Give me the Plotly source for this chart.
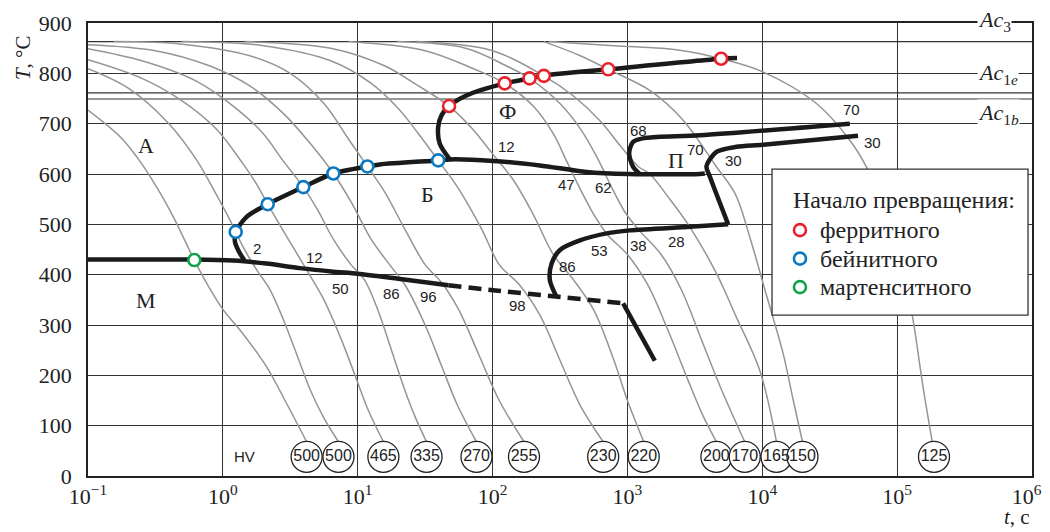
import math
import plotly.graph_objects as go

# ---------------- data ----------------
# cooling curves: time (s) and temperature (°C)
cool_t = [
    [0.1, 0.173, 0.230, 0.323, 0.429, 0.614, 0.759, 1.007, 1.34, 2.11, 2.97, 4.18],
    [0.1, 0.2, 0.398, 0.631, 0.891, 1.122, 1.245, 1.413, 1.778, 2.239, 2.818, 3.548, 4.467, 5.623, 7.2],
    [0.1, 0.251, 0.501, 0.891, 1.413, 1.778, 2.15, 2.63, 3.31, 4.17, 5.62, 7.59, 9.55, 12.0, 15.5],
    [0.1, 0.251, 0.631, 1.259, 1.995, 2.818, 3.95, 5.01, 6.61, 8.91, 11.2, 14.1, 17.8, 22.4, 26.9, 32.4],
    [0.1, 0.316, 0.794, 1.585, 2.818, 4.467, 6.6, 8.91, 12.6, 17.8, 22.4, 31.6, 41.7, 55.0, 76],
    [0.155, 0.501, 1.585, 3.162, 5.623, 8.51, 11.8, 15.8, 22.4, 31.6, 41.7, 56.2, 79.4, 112, 171],
    [0.495, 1.995, 6.31, 12.6, 20.0, 28.2, 39.5, 56.2, 83.2, 112, 158, 224, 316, 447, 661],
    [1.46, 6.31, 15.8, 28.2, 47.6, 70.8, 100, 141, 200, 282, 398, 562, 794, 1000, 1321],
    [8.51, 31.6, 70.8, 123, 200, 282, 355, 447, 562, 708, 1000, 1413, 1995, 2818, 3631, 4570],
    [19.5, 63.1, 126, 188, 316, 447, 603, 759, 955, 1202, 1778, 2512, 3548, 5012, 7413],
    [27.3, 100, 240, 398, 631, 891, 1202, 1466, 1995, 2897, 4581, 6310, 9572, 12735],
    [240, 447, 720, 1466, 2588, 4581, 6310, 8072, 10715, 14256, 16982, 19860],
    [261, 794, 2449, 4955, 10090, 25235, 44570, 59160, 88310, 117220, 131220, 155600, 182000],
]
cool_T = [
    [727, 674, 634, 574, 515, 429, 383, 330, 290, 217, 144, 68],
    [809, 770, 700, 630, 560, 510, 485, 455, 410, 370, 310, 240, 170, 115, 68],
    [827, 790, 745, 690, 620, 580, 540, 500, 455, 410, 350, 270, 200, 130, 68],
    [849, 825, 785, 730, 680, 625, 574, 530, 470, 420, 390, 330, 250, 170, 115, 68],
    [857, 845, 815, 775, 720, 660, 601, 545, 470, 415, 380, 300, 220, 140, 68],
    [863, 858, 835, 800, 740, 670, 615, 565, 490, 420, 385, 330, 240, 150, 68],
    [863, 855, 825, 780, 730, 680, 627, 570, 490, 420, 380, 320, 230, 140, 68],
    [863, 850, 815, 775, 735, 690, 640, 590, 520, 440, 390, 330, 230, 150, 68],
    [863, 845, 810, 780, 735, 680, 625, 570, 520, 480, 440, 380, 290, 190, 120, 68],
    [863, 850, 815, 790, 740, 690, 630, 575, 525, 490, 440, 370, 270, 170, 68],
    [863, 845, 795, 755, 705, 655, 615, 600, 555, 495, 402, 320, 210, 68],
    [863, 835, 808, 766, 707, 614, 560, 475, 360, 244, 150, 68],
    [863, 855, 846, 829, 803, 740, 667, 614, 508, 376, 310, 177, 68],
]

# hardness HV at end of each cooling curve
hv_t = [4.18, 7.2, 15.5, 32.4, 76, 171, 661, 1321, 4570, 7413, 12735, 19860, 187600]
hv_vals = ["500", "500", "465", "335", "270", "255", "230", "220", "200", "170", "165", "150", "125"]
hv_T = 38
hv_label_t = 1.44

# critical points
ac_names = ["<i>Ac</i><sub>3</sub>", "<i>Ac</i><sub>1<i>e</i></sub>", "<i>Ac</i><sub>1<i>b</i></sub>"]
ac_T = [863, 761, 749]

# transformation start points
ferr_t = [47.6, 123, 188, 240, 720, 4950]
ferr_T = [735, 780, 790, 795, 808, 829]
bain_t = [1.245, 2.15, 3.95, 6.6, 11.8, 39.5]
bain_T = [485, 540, 574, 601, 615, 627]
mart_t = [0.614]
mart_T = [429]
start_names = ["ферритного", "бейнитного", "мартенситного"]
legend_title = "Начало превращения:"

# transformation lines
ms_t = [0.1, 0.6, 1.2, 2.1, 3.7, 6.6, 10, 20, 47]
ms_T = [430, 430, 428, 422, 413, 406, 402, 392, 379]
ms_dash_t = [47, 101, 281, 929]
ms_dash_T = [379, 369, 357, 343]
ms_tail_t = [929, 1596]
ms_tail_T = [343, 229]

bs_t = [1.44, 1.32, 1.23, 1.25, 1.5, 2.15, 3.95, 6.6, 11.8, 14.6, 39.5, 48.2, 101, 224, 498, 1019, 3444, 3750]
bs_T = [429, 445, 465, 485, 515, 540, 574, 601, 615, 619, 627, 629, 626, 617, 604, 600, 600, 601]

fs_t = [48.2, 40.6, 39.5, 41.9, 47.6, 64, 123, 188, 240, 720, 4950, 6500]
fs_T = [629, 660, 693, 717, 735, 756, 780, 790, 795.5, 808, 829, 830.5]

p70_t = [1236, 1102, 1030, 1102, 1387, 3444, 44570]
p70_T = [600, 614, 641, 664, 672, 677, 700]

bl_t = [298, 266, 274, 316, 444, 700, 1042, 2904, 5585]
bl_T = [356, 389, 422, 449, 468, 482, 488, 495, 500]

p30_t = [5585, 4083, 3855, 4571, 6427, 10140, 51290]
p30_T = [500, 595, 615, 644, 654, 658, 676]

# percentage labels
pct_t = [1.78, 4.82, 7.46, 17.8, 33.3, 152, 127, 354, 661, 357, 617, 1199, 2312, 1199, 3214, 6081, 45800, 65600]
pct_T = [452, 435, 373, 363, 357, 338, 654, 579, 573, 416, 449, 457, 465, 687, 649, 626, 728, 662]
pct_txt = ["2", "12", "50", "86", "96", "98", "12", "47", "62", "86", "53", "38", "28", "68", "70", "30", "70", "30"]

# phase region letters
reg_t = [0.268, 0.268, 33, 129, 2296]
reg_T = [657, 348, 560, 725, 627]
reg_txt = ["А", "М", "Б", "Ф", "П"]

x_ticks = [0.1, 1, 10, 100, 1000, 1e4, 1e5, 1e6]
x_ticktext = ["10<sup>−1</sup>", "10<sup>0</sup>", "10<sup>1</sup>", "10<sup>2</sup>",
              "10<sup>3</sup>", "10<sup>4</sup>", "10<sup>5</sup>", "10<sup>6</sup>\u2002"]
y_ticks = list(range(0, 901, 100))

# ---------------- figure ----------------
SERIF = "Liberation Serif, Times New Roman, serif"
NARROW = "Liberation Sans Narrow, Arial Narrow, Liberation Sans, sans-serif"
GRAY = "#959595"
BLACK = "#1a1a1a"
TXT = "#222"
RED, BLUE, GREEN = "#e8212b", "#0a78c2", "#10a34c"

fig = go.Figure()

for T in ac_T:
    fig.add_trace(go.Scatter(x=[x_ticks[0], x_ticks[-1]], y=[T, T], mode="lines",
                             line=dict(color="#333", width=1.2), showlegend=False, hoverinfo="skip"))

for t, T in zip(cool_t, cool_T):
    fig.add_trace(go.Scatter(x=t, y=T, mode="lines",
                             line=dict(color=GRAY, width=1.5, shape="spline", smoothing=1.0),
                             showlegend=False, hoverinfo="skip"))


def thick(t, T, dash="solid", spline=True):
    fig.add_trace(go.Scatter(x=t, y=T, mode="lines",
                             line=dict(color=BLACK, width=4.5, dash=dash,
                                       shape="spline" if spline else "linear", smoothing=0.8),
                             showlegend=False, hoverinfo="skip"))


thick(ms_t, ms_T)
thick(ms_dash_t, ms_dash_T, dash="13px,7px")
thick(ms_tail_t, ms_tail_T, spline=False)
thick(bs_t, bs_T)
thick(fs_t, fs_T)
thick(p70_t, p70_T)
thick(bl_t, bl_T)
thick(p30_t, p30_T)

fig.add_trace(go.Scatter(x=hv_t, y=[hv_T] * len(hv_t), mode="markers+text", text=hv_vals,
                         textposition="middle center",
                         textfont=dict(family=NARROW, size=16, color=TXT),
                         marker=dict(symbol="circle", size=31, color="white", line=dict(color=TXT, width=1.3)),
                         showlegend=False, hoverinfo="skip"))

mk = dict(symbol="circle", size=12, color="white")
for tt, TT, col, nm in [(ferr_t, ferr_T, RED, start_names[0]),
                        (bain_t, bain_T, BLUE, start_names[1]),
                        (mart_t, mart_T, GREEN, start_names[2])]:
    fig.add_trace(go.Scatter(x=tt, y=TT, mode="markers", name=nm, showlegend=False,
                             marker=dict(**mk, line=dict(color=col, width=2.6))))

annotations = []
for t, T, s in zip(pct_t, pct_T, pct_txt):
    annotations.append(dict(x=math.log10(t), y=T, xref="x", yref="y", text=s, showarrow=False,
                            font=dict(family=NARROW, size=15, color=TXT)))
for t, T, s in zip(reg_t, reg_T, reg_txt):
    annotations.append(dict(x=math.log10(t), y=T, xref="x", yref="y", text=s, showarrow=False,
                            font=dict(family=SERIF, size=22, color=TXT)))
annotations.append(dict(x=math.log10(hv_label_t), y=hv_T, xref="x", yref="y", text="HV", showarrow=False,
                        font=dict(family=NARROW, size=15, color=TXT)))
for s, yv in zip(ac_names, [1.0037, 0.8876, 0.7986]):
    annotations.append(dict(x=0.9417, y=yv, xref="paper", yref="paper", text=s, showarrow=False,
                            xanchor="left", yanchor="middle", bgcolor="white", borderpad=0,
                            font=dict(family=SERIF, size=22, color=TXT)))
annotations.append(dict(x=-0.083, y=0.978, xref="paper", yref="paper", text="<i>T</i>, °C",
                        textangle=-90, showarrow=False, font=dict(family=SERIF, size=21, color=TXT)))
annotations.append(dict(x=0.984, y=-0.121, xref="paper", yref="paper", text="<i>t</i>, c",
                        xanchor="center", yanchor="bottom",
                        showarrow=False, font=dict(family=SERIF, size=21, color=TXT)))

# legend box drawn manually (title + three entries)
shapes = [dict(type="rect", xref="paper", yref="paper", x0=0.7246, x1=0.9958, y0=0.3552, y1=0.6773,
               fillcolor="white", line=dict(color="#333", width=1.3), layer="above")]
annotations.append(dict(x=0.7447, y=0.6089, xref="paper", yref="paper", text=legend_title,
                        xanchor="left", yanchor="middle", showarrow=False,
                        font=dict(family=SERIF, size=24, color=TXT)))
for row_y, col, nm in zip([0.5427, 0.4798, 0.4169], [RED, BLUE, GREEN], start_names):
    shapes.append(dict(type="circle", xref="paper", yref="paper", xsizemode="pixel", ysizemode="pixel",
                       xanchor=0.7542, yanchor=row_y, x0=-6, x1=6, y0=-6, y1=6,
                       fillcolor="white", line=dict(color=col, width=2.6), layer="above"))
    annotations.append(dict(x=0.7733, y=row_y, xref="paper", yref="paper", text=nm,
                            xanchor="left", yanchor="middle", showarrow=False,
                            font=dict(family=SERIF, size=24, color=TXT)))

fig.update_layout(
    width=1042, height=524,
    margin=dict(l=80, r=18, t=15, b=56, autoexpand=False),
    paper_bgcolor="white", plot_bgcolor="white",
    annotations=annotations, shapes=shapes, showlegend=False,
)
fig.update_xaxes(type="log", range=[-1, 6], tickvals=x_ticks, ticktext=x_ticktext, automargin=False,
                 ticklabeloverflow="allow",
                 showgrid=True, gridcolor="#333", gridwidth=1.2,
                 showline=True, linecolor="#222", linewidth=1.5, mirror=True,
                 ticks="", tickfont=dict(family=SERIF, size=22, color=TXT), zeroline=False)
fig.update_yaxes(range=[0, 900], tickvals=y_ticks, automargin=False,
                 showgrid=True, gridcolor="#333", gridwidth=1.2,
                 showline=True, linecolor="#222", linewidth=1.5, mirror=True,
                 ticks="", ticklabelstandoff=10, tickfont=dict(family=SERIF, size=22, color=TXT),
                 zeroline=False)

fig.write_html("out.html")
